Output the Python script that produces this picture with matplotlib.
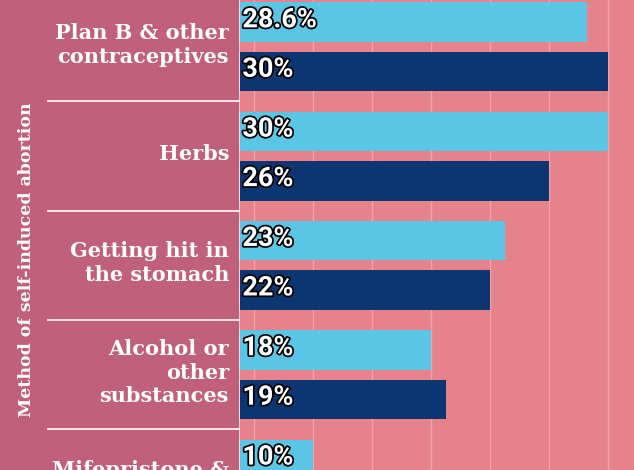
import numpy as np
import matplotlib.pyplot as plt
import matplotlib.patheffects as pe
from matplotlib.transforms import blended_transform_factory

# data
methods = ['Plan B & other\ncontraceptives', 'Herbs', 'Getting hit in\nthe stomach',
           'Alcohol or\nother\nsubstances', 'Mifepristone &\nmisoprostol']
series_light = [28.6, 30, 23, 18, 10]
series_dark = [30, 26, 22, 19, np.nan]  # last one is cut off in the picture
light_labels = ['28.6%', '30%', '23%', '18%', '10%']
dark_labels = ['30%', '26%', '22%', '19%', '']

light_col = '#5bc5e6'
dark_col = '#0c3672'
panel_col = '#c0607a'
bg_col = '#e6828a'

W, H = 634, 470
panel_px = 240

fig = plt.figure(figsize=(W / 100, H / 100), dpi=100)
fig.patch.set_facecolor(bg_col)

# left label panel
ax_l = fig.add_axes([0, 0, panel_px / W, 1])
ax_l.set_facecolor(panel_col)
# main bar axes
ax = fig.add_axes([panel_px / W, 0, 1 - panel_px / W, 1])
ax.set_facecolor(bg_col)

y = np.arange(len(methods))
off = 0.2264
h = 0.361
ylim = (3.872, -0.428)

ax.barh(y - off, series_light, height=h, color=light_col, zorder=2)
ax.barh(y + off, series_dark, height=h, color=dark_col, zorder=2)
ax.set_xlim(5.05, 31.76)
ax.set_ylim(*ylim)
ax.set_xticks(np.arange(6, 31, 4))
ax.grid(axis='x', color='#f6b0b6', linewidth=1, alpha=0.7, zorder=0)
ax.tick_params(left=False, bottom=False, labelleft=False, labelbottom=False)
for s in ax.spines.values():
    s.set_visible(False)

# value labels, white with black outline
tr = blended_transform_factory(ax.transAxes, ax.transData)
stroke = [pe.withStroke(linewidth=2.5, foreground='black')]
for i in range(len(methods)):
    for yy, lab in ((y[i] - off, light_labels[i]), (y[i] + off, dark_labels[i])):
        if lab:
            ax.text(0.006, yy - 0.02, lab, transform=tr, ha='left', va='center',
                    fontsize=19.5, fontweight='bold', family='Roboto',
                    color='white', path_effects=stroke, zorder=3)

# left panel: separators, category names, axis title
ax_l.set_xlim(0, panel_px)
ax_l.set_ylim(*ylim)
ax_l.axis('off')
ax_l.add_patch(plt.Rectangle((0, ylim[1]), panel_px, ylim[0] - ylim[1], color=panel_col, zorder=0))
for i in range(len(methods) - 1):
    ax_l.plot([48, panel_px], [i + 0.5, i + 0.5], color='white', lw=1.3, alpha=0.9)
ax_l.axvline(panel_px - 0.5, color='white', lw=1.2, alpha=0.9)
for i, m in enumerate(methods):
    ax_l.text(229, y[i] - 0.02, m, ha='right', va='center', color='white',
              fontsize=15, fontweight='bold', family='DejaVu Serif', linespacing=1.24)
fig.text(27 / W, 1 - 260 / H, 'Method of self-induced abortion', rotation=90,
         ha='center', va='center', color='white', fontsize=12.5,
         fontweight='bold', family='DejaVu Serif')

fig.savefig('out.png', dpi=100, facecolor=fig.get_facecolor())
